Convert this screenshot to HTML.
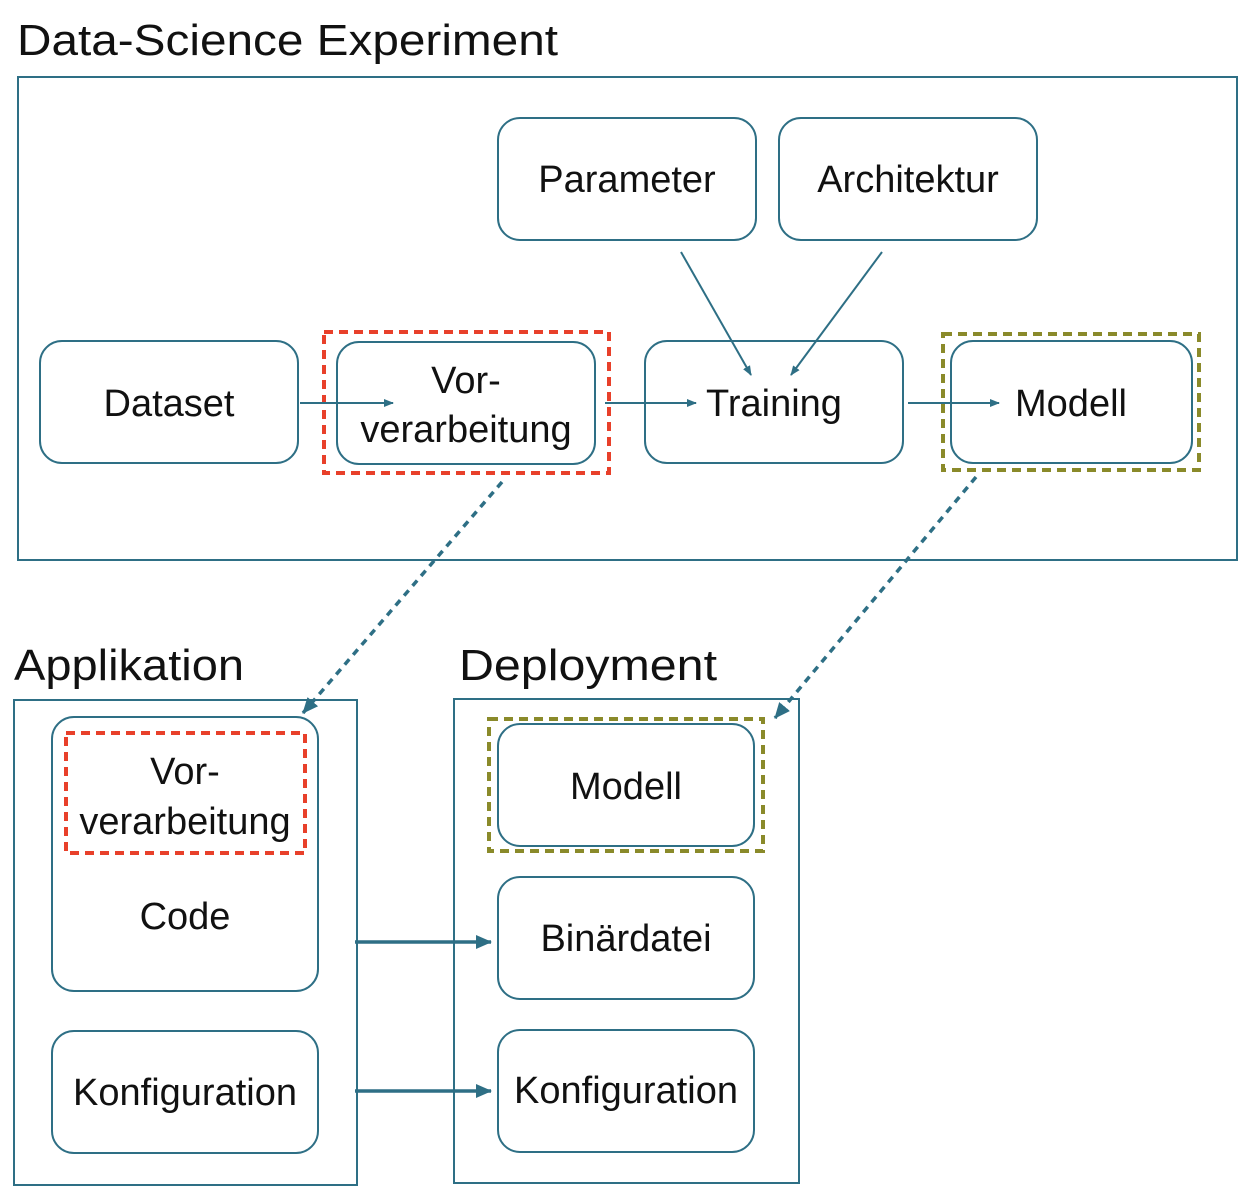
<!DOCTYPE html>
<html><head><meta charset="utf-8"><style>
html,body{margin:0;padding:0;background:#fff}
svg{display:block}
text{font-family:"Liberation Sans",sans-serif;fill:#111}
</style></head><body>
<svg width="1252" height="1202" viewBox="0 0 1252 1202">
<defs>
<marker id="a" markerWidth="10" markerHeight="10" refX="9" refY="5" orient="auto" markerUnits="userSpaceOnUse"><path d="M0,1 L10,5 L0,9 z" fill="#2e6f85"/></marker>
<marker id="b" markerWidth="16" markerHeight="16" refX="15" refY="8" orient="auto" markerUnits="userSpaceOnUse"><path d="M0,1 L16,8 L0,15 z" fill="#2e6f85"/></marker>
</defs>
<g font-size="44">
<text x="17" y="55" textLength="541" lengthAdjust="spacingAndGlyphs">Data-Science Experiment</text>
<text x="14" y="680" textLength="230" lengthAdjust="spacingAndGlyphs">Applikation</text>
<text x="459" y="680" textLength="258" lengthAdjust="spacingAndGlyphs">Deployment</text>
</g>
<g fill="none" stroke="#2e6f85" stroke-width="2">
<rect x="18" y="77" width="1219" height="483"/>
<rect x="14" y="700" width="343" height="485"/>
<rect x="454" y="699" width="345" height="484"/>
<rect x="498" y="118" width="258" height="122" rx="22"/>
<rect x="779" y="118" width="258" height="122" rx="22"/>
<rect x="40" y="341" width="258" height="122" rx="22"/>
<rect x="337" y="342" width="258" height="122" rx="22"/>
<rect x="645" y="341" width="258" height="122" rx="22"/>
<rect x="951" y="341" width="241" height="122" rx="22"/>
<rect x="52" y="717" width="266" height="274" rx="22"/>
<rect x="52" y="1031" width="266" height="122" rx="22"/>
<rect x="498" y="724" width="256" height="122" rx="22"/>
<rect x="498" y="877" width="256" height="122" rx="22"/>
<rect x="498" y="1030" width="256" height="122" rx="22"/>
</g>
<g fill="none" stroke-width="4" stroke-dasharray="9,6">
<rect x="324" y="332" width="285" height="141" stroke="#e8402a"/>
<rect x="66" y="733" width="239" height="120" stroke="#e8402a"/>
<rect x="943" y="334" width="256" height="136" stroke="#8a8a2a"/>
<rect x="489" y="719" width="274" height="132" stroke="#8a8a2a"/>
</g>
<g stroke="#2e6f85" stroke-width="2" fill="none">
<line x1="300" y1="403" x2="393" y2="403" marker-end="url(#a)"/>
<line x1="605" y1="403" x2="696" y2="403" marker-end="url(#a)"/>
<line x1="908" y1="403" x2="999" y2="403" marker-end="url(#a)"/>
<line x1="681" y1="252" x2="751" y2="375" marker-end="url(#a)"/>
<line x1="882" y1="252" x2="791" y2="375" marker-end="url(#a)"/>
</g>
<g stroke="#2e6f85" stroke-width="3.5" fill="none">
<line x1="502" y1="482" x2="303" y2="713" stroke-dasharray="7,6" marker-end="url(#b)"/>
<line x1="976" y1="477" x2="775" y2="718" stroke-dasharray="7,6" marker-end="url(#b)"/>
<line x1="355" y1="942" x2="491" y2="942" marker-end="url(#b)"/>
<line x1="355" y1="1091" x2="491" y2="1091" marker-end="url(#b)"/>
</g>
<g font-size="38" text-anchor="middle">
<text x="627" y="192">Parameter</text>
<text x="908" y="192">Architektur</text>
<text x="169" y="416">Dataset</text>
<text x="466" y="393">Vor-</text>
<text x="466" y="442">verarbeitung</text>
<text x="774" y="416">Training</text>
<text x="1071" y="416">Modell</text>
<text x="185" y="784">Vor-</text>
<text x="185" y="834">verarbeitung</text>
<text x="185" y="929">Code</text>
<text x="185" y="1105">Konfiguration</text>
<text x="626" y="799">Modell</text>
<text x="626" y="951">Binärdatei</text>
<text x="626" y="1103">Konfiguration</text>
</g>
</svg>
</body></html>
